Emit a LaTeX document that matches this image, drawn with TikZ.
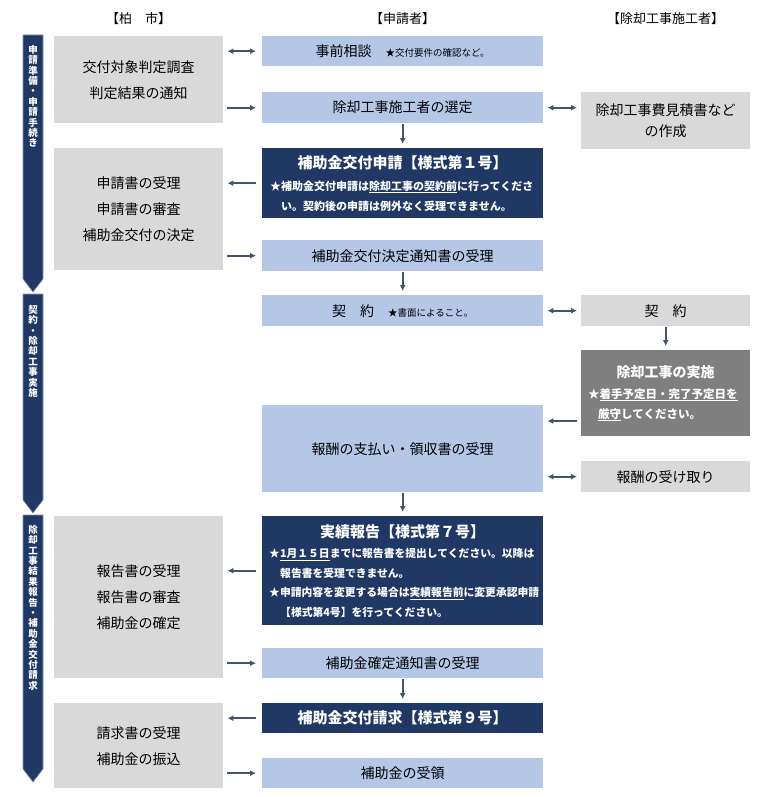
\documentclass[tikz,border=0pt]{standalone}
\usepackage{fontspec}
\setmainfont{Noto Sans CJK JP}
\usepackage{tikz}
\usetikzlibrary{arrows.meta}

\definecolor{cityGray}{HTML}{D9D9D9}
\definecolor{appBlue}{HTML}{B4C7E7}
\definecolor{formNavy}{HTML}{203864}
\definecolor{workGray}{HTML}{7F7F7F}
\definecolor{arrowGray}{HTML}{44546A}
\definecolor{barEdge}{HTML}{8497B0}

\newcommand\noteFont{\fontsize{9.5}{12}\selectfont}
\newcommand\titleFont{\fontsize{15}{18}\selectfont\bfseries}

\tikzset{
  baseBox/.style={anchor=north west, inner sep=0pt, align=center, font=\fontsize{14}{26}\selectfont},
  cityBox/.style={baseBox, fill=cityGray, minimum width=169pt},
  appBox/.style={baseBox, fill=appBlue, minimum width=281pt},
  formBox/.style={baseBox, fill=formNavy, text=white, minimum width=281pt},
  workBox/.style={baseBox, fill=workGray, text=white, minimum width=169pt},
  header/.style={font=\fontsize{13}{15}\selectfont},
  phaseBar/.style={fill=formNavy, draw=barEdge, line width=0.6pt},
  phaseText/.style={anchor=north, inner sep=0pt, align=center, text=white, font=\fontsize{9.5}{10.4}\selectfont\bfseries},
  flow/.style={draw=arrowGray, line width=1.7pt, -{Latex[length=6pt,width=6pt]}},
  twoWay/.style={flow, {Latex[length=6pt,width=6pt]}-{Latex[length=6pt,width=6pt]}}
}

\begin{document}
\begin{tikzpicture}[x=1pt,y=-1pt]
\useasboundingbox (0,0) rectangle (768,797);

% column headers
\node[header] (hCity) at (138.5,19) {【柏　市】};
\node[header] (hApp) at (402.5,19) {【申請者】};
\node[header] (hWork) at (665.5,19) {【除却工事施工者】};

% phase bars
\foreach \top/\bot in {35/292, 294/513, 515/782}
  \draw[phaseBar] (23,\top) -- (43,\top) -- (43,\bot-13) -- (33,\bot) -- (23,\bot-13) -- cycle;
\node[phaseText] (p1) at (33,45) {申\\請\\準\\備\\・\\申\\請\\手\\続\\き};
\node[phaseText] (p2) at (33,305) {契\\約\\・\\除\\却\\工\\事\\実\\施};
\node[phaseText] (p3) at (33,525) {除\\却\\工\\事\\結\\果\\報\\告\\・\\補\\助\\金\\交\\付\\請\\求};

% city
\node[cityBox, minimum height=87pt] (c1) at (54,36) {交付対象判定調査\\判定結果の通知};
\node[cityBox, minimum height=122pt] (c2) at (54,148) {申請書の受理\\申請書の審査\\補助金交付の決定};
\node[cityBox, minimum height=162pt] (c3) at (54,516) {報告書の受理\\報告書の審査\\補助金の確定};
\node[cityBox, minimum height=85pt] (c4) at (54,703) {請求書の受理\\補助金の振込};

% applicant
\node[appBox, minimum height=30pt] (a1) at (262,36) {事前相談\hspace{14pt}{\noteFont ★交付要件の確認など。}};
\node[appBox, minimum height=31pt] (a2) at (262,92) {除却工事施工者の選定};
\node[formBox, minimum height=70pt, text width=265pt, align=left, inner xsep=8pt,
  font=\fontsize{11}{20}\selectfont\bfseries] (a3) at (262,148)
  {\makebox[265pt]{\titleFont 補助金交付申請【様式第１号】}\\[2pt]
   ★補助金交付申請は\underline{除却工事の契約前}に行ってくださ\\
   \hspace*{11pt}い。契約後の申請は例外なく受理できません。};
\node[appBox, minimum height=31pt] (a4) at (262,240) {補助金交付決定通知書の受理};
\node[appBox, minimum height=31pt] (a5) at (262,295) {契　約　{\noteFont ★書面によること。}};
\node[appBox, minimum height=87pt] (a6) at (262,405) {報酬の支払い・領収書の受理};
\node[formBox, minimum height=109pt, text width=267pt, align=left, inner xsep=7pt,
  font=\fontsize{10.8}{19.5}\selectfont\bfseries] (a7) at (262,516)
  {\makebox[267pt]{\titleFont 実績報告【様式第７号】}\\[1pt]
   ★\underline{1月１５日}までに報告書を提出してください。以降は\\
   \hspace*{11pt}報告書を受理できません。\\
   ★申請内容を変更する場合は\underline{実績報告前}に変更承認申請\\
   \hspace*{11pt}【様式第4号】を行ってください。};
\node[appBox, minimum height=30pt] (a8) at (262,648) {補助金確定通知書の受理};
\node[formBox, minimum height=30pt] (a9) at (262,703) {\titleFont 補助金交付請求【様式第９号】};
\node[appBox, minimum height=30pt] (a10) at (262,758) {補助金の受領};

% contractor
\node[cityBox, minimum height=57pt, font=\fontsize{14}{21}\selectfont] (w1) at (581,92) {除却工事費見積書など\\の作成};
\node[cityBox, minimum height=31pt] (w2) at (581,295) {契　約};
\node[workBox, minimum height=86pt, text width=155pt, align=left, inner xsep=7pt,
  font=\fontsize{11.5}{20}\selectfont\bfseries] (w3) at (581,350)
  {\makebox[155pt]{\fontsize{14}{17}\selectfont 除却工事の実施}\\[1pt]
   ★\underline{着手予定日・完了予定日を}\\
   \hspace*{10pt}\underline{厳守}してください。};
\node[cityBox, minimum height=31pt] (w4) at (581,461) {報酬の受け取り};
\coordinate (payIn) at ([yshift=-16pt]a6.north east);

% city <-> applicant
\draw[twoWay, shorten <=6pt, shorten >=4pt] (a1.west) -- (a1.west -| c1.east);
\draw[flow, shorten <=4pt, shorten >=6pt] (a2.west -| c1.east) -- (a2.west);
\draw[flow, shorten <=6pt, shorten >=4pt] (a3.west) -- (a3.west -| c2.east);
\draw[flow, shorten <=4pt, shorten >=6pt] (a4.west -| c2.east) -- (a4.west);
\draw[flow, shorten <=6pt, shorten >=4pt] (a7.west) -- (a7.west -| c3.east);
\draw[flow, shorten <=4pt, shorten >=6pt] (a8.west -| c3.east) -- (a8.west);
\draw[flow, shorten <=6pt, shorten >=4pt] (a9.west) -- (a9.west -| c4.east);
\draw[flow, shorten <=4pt, shorten >=6pt] (a10.west -| c4.east) -- (a10.west);

% applicant <-> contractor
\draw[twoWay, shorten <=4pt, shorten >=4pt] (a2.east) -- (a2.east -| w1.west);
\draw[twoWay, shorten <=4pt, shorten >=4pt] (a5.east) -- (w2.west);
\draw[flow, shorten <=4pt, shorten >=4pt] (payIn -| w3.west) -- (payIn);
\draw[twoWay, shorten <=4pt, shorten >=4pt] (w4.west -| a6.east) -- (w4.west);

% down the columns
\draw[flow, shorten <=1pt, shorten >=4pt] (a2.south) -- (a3.north);
\draw[flow, shorten <=1pt, shorten >=4pt] (a4.south) -- (a5.north);
\draw[flow, shorten <=1pt, shorten >=4pt] (a6.south) -- (a7.north);
\draw[flow, shorten <=1pt, shorten >=4pt] (a8.south) -- (a9.north);
\draw[flow, shorten <=1pt, shorten >=4pt] (w2.south) -- (w3.north);
\end{tikzpicture}
\end{document}
